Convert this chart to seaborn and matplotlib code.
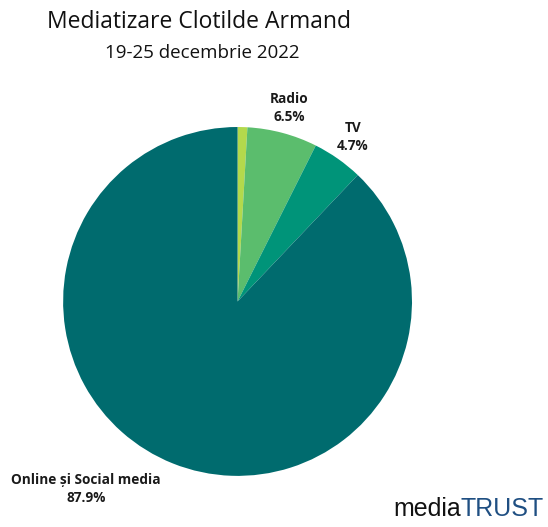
import numpy as np
import seaborn as sns
import matplotlib.pyplot as plt

sns.set_theme(style="white")
plt.rcParams['font.family'] = ['Open Sans', 'DejaVu Sans']

# Data
channels = ['Print', 'Radio', 'TV', 'Online și Social media']
shares = [0.9, 6.5, 4.7, 87.9]
colors = ['#b3d94c', '#5bbd6d', '#009479', '#006b6e']

fig = plt.figure(figsize=(5.48, 5.27), dpi=100)
ax = fig.add_axes([0.115, 0.097, 0.637, 0.662])

wedges, _ = ax.pie(shares, colors=colors, startangle=90, counterclock=False,
                   wedgeprops=dict(linewidth=0))
ax.set_aspect('equal')
ax.set_xlim(-1, 1)
ax.set_ylim(-1, 1)

# Labels for Radio and TV placed just outside the wedge middle
for w, name, val in zip(wedges, channels, shares):
    if name in ('Radio', 'TV'):
        ang = np.deg2rad((w.theta1 + w.theta2) / 2)
        ax.text(1.15 * np.cos(ang), 1.15 * np.sin(ang), f'{name}\n{val}%',
                ha='center', va='center', fontsize=9.8, fontweight='bold',
                color='#1a1a1a', linespacing=1.35, clip_on=False)

# Online label sits at the bottom left
fig.text(86 / 548, 1 - 489 / 527, f'{channels[3]}\n{shares[3]}%', ha='center', va='center',
         fontsize=9.8, fontweight='bold', color='#1a1a1a', linespacing=1.35)

# Titles
fig.text(199 / 548, 1 - 22 / 527, 'Mediatizare Clotilde Armand', ha='center', va='center',
         fontsize=16.5, color='#111111')
fig.text(202 / 548, 1 - 53 / 527, '19-25 decembrie 2022', ha='center', va='center',
         fontsize=13.5, color='#111111')

# Logo: TRUST right-aligned to the edge, media placed just left of it
logo_font = ['Liberation Sans', 'DejaVu Sans']
trust = fig.text(544 / 548, 1 - 509 / 527, 'TRUST', ha='right', va='center',
                 fontsize=18, color='#1f4f82', family=logo_font)
fig.canvas.draw()
x0 = trust.get_window_extent().x0 / fig.bbox.width
fig.text(x0, 1 - 509 / 527, 'media', ha='right', va='center',
         fontsize=18, color='#111111', family=logo_font)

plt.savefig('out.png', dpi=100)
